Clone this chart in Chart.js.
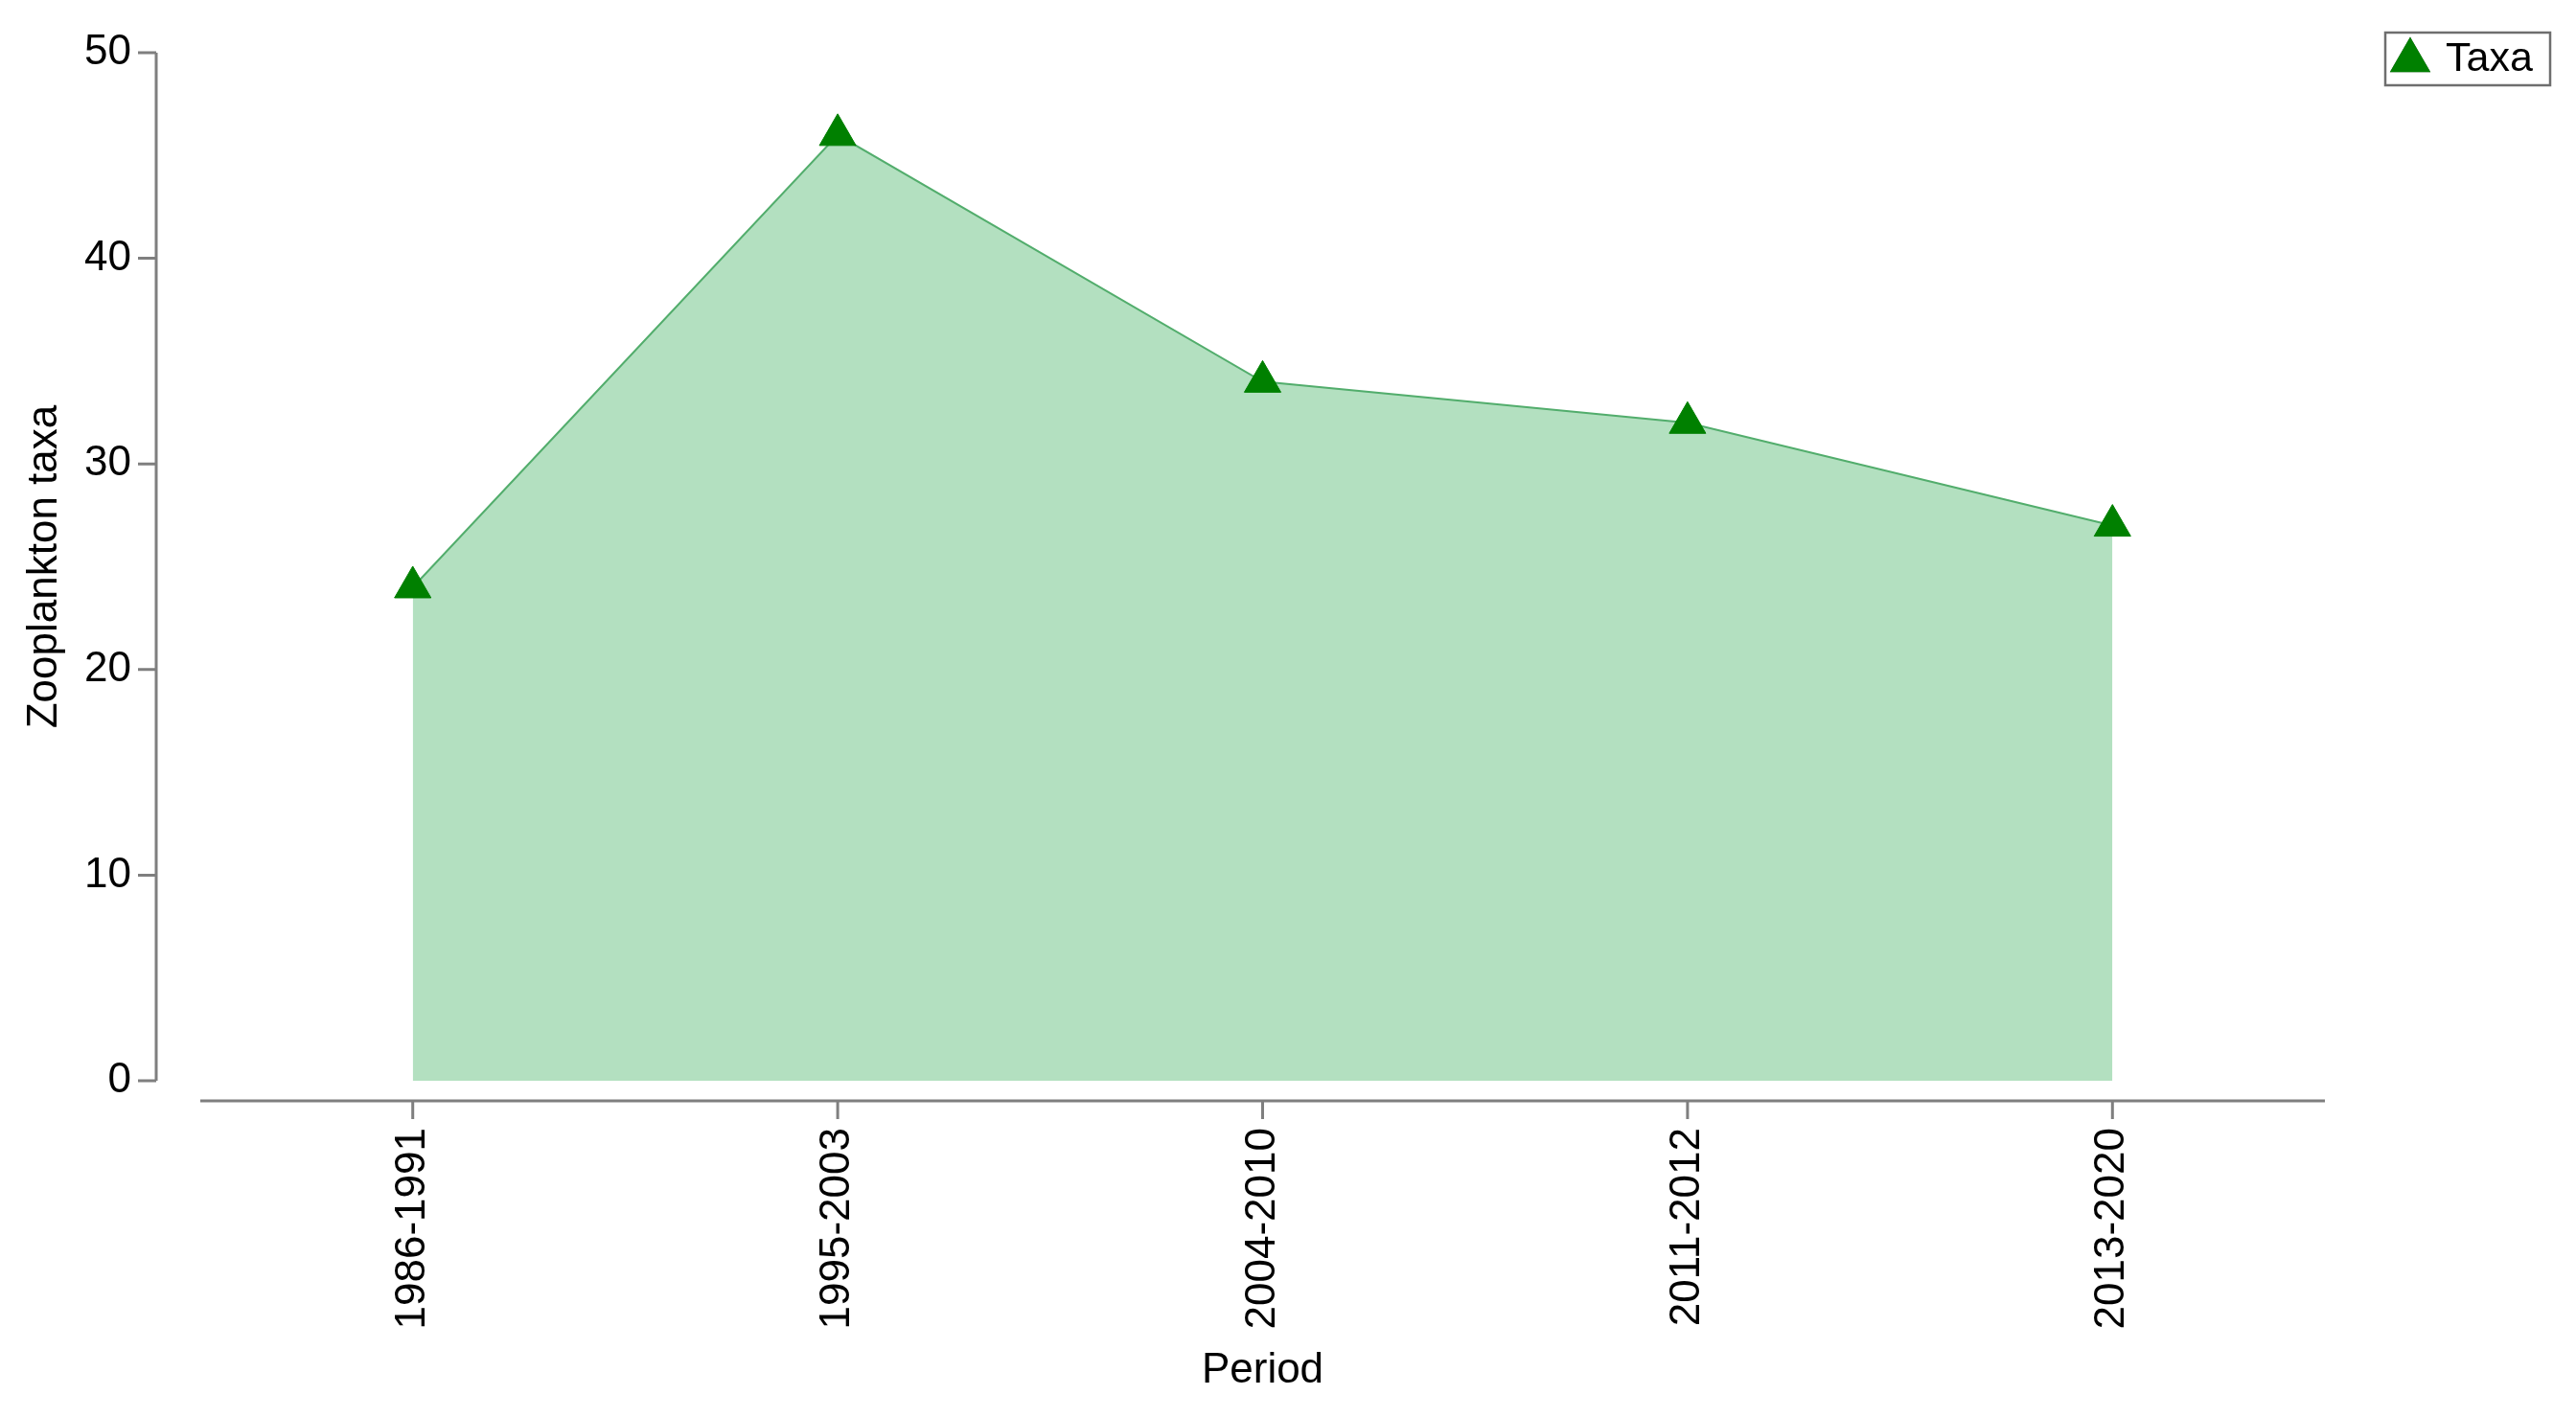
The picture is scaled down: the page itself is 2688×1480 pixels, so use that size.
<!DOCTYPE html>
<html>
<head>
<meta charset="utf-8">
<title>Zooplankton taxa by period</title>
<script src="https://cdn.jsdelivr.net/npm/chart.js@4"></script>
<style>
  html, body { margin: 0; padding: 0; background: #fff; }
  canvas { display: block; }
</style>
</head>
<body>
<canvas id="chart" width="2688" height="1480"></canvas>
<script>
// Data
const periods = ["1986-1991", "1995-2003", "2004-2010", "2011-2012", "2013-2020"];
const taxaCounts = [24, 46, 34, 32, 27];
const yTicks = [0, 10, 20, 30, 40, 50];
const seriesLabel = "Taxa";

const FONT = "'Liberation Sans', Arial, sans-serif";
const AXIS_GREY = "#7f7f7f";

/**
 * Draws R-style detached axes: y axis shifted left of the plot,
 * x axis shifted below it, each with outward tick marks.
 */
const detachedAxes = {
  id: "detachedAxes",
  afterDraw(chart) {
    const { ctx, chartArea, scales } = chart;
    const xs = scales.x;
    const ys = scales.y;
    const yAxisX = chartArea.left - 46;
    const xAxisY = chartArea.bottom + 21;

    ctx.save();
    ctx.strokeStyle = AXIS_GREY;
    ctx.lineWidth = 3;

    // y axis line and ticks
    ctx.beginPath();
    ctx.moveTo(yAxisX, ys.getPixelForValue(yTicks[yTicks.length - 1]));
    ctx.lineTo(yAxisX, ys.getPixelForValue(yTicks[0]));
    yTicks.forEach((v) => {
      const py = ys.getPixelForValue(v);
      ctx.moveTo(yAxisX - 19, py);
      ctx.lineTo(yAxisX, py);
    });
    ctx.stroke();

    // x axis line and ticks
    ctx.beginPath();
    ctx.moveTo(chartArea.left, xAxisY);
    ctx.lineTo(chartArea.right, xAxisY);
    periods.forEach((p, i) => {
      const px = xs.getPixelForTick(i);
      ctx.moveTo(px, xAxisY);
      ctx.lineTo(px, xAxisY + 19);
    });
    ctx.stroke();
    ctx.restore();
  }
};

/**
 * Boxed legend in the top right corner, outside the plot area.
 */
const boxedLegend = {
  id: "boxedLegend",
  afterDraw(chart) {
    const { ctx, chartArea } = chart;
    const ds = chart.data.datasets[0];
    const left = chartArea.right + 63;
    const top = 34;
    const w = 172;
    const h = 55;

    ctx.save();
    ctx.fillStyle = "#fff";
    ctx.fillRect(left, top, w, h);
    ctx.strokeStyle = "#6e6e6e";
    ctx.lineWidth = 2.5;
    ctx.strokeRect(left, top, w, h);

    // marker, same style as the dataset points
    Chart.helpers.drawPoint(ctx, {
      pointStyle: ds.pointStyle,
      radius: ds.pointRadius,
      rotation: 0,
      borderWidth: 1
    }, left + 26, top + 29);
    ctx.fillStyle = ds.pointBackgroundColor;
    ctx.strokeStyle = ds.pointBorderColor;
    ctx.fill();
    ctx.stroke();

    ctx.fillStyle = "#000";
    ctx.font = "43px " + FONT;
    ctx.textAlign = "left";
    ctx.textBaseline = "middle";
    ctx.fillText(ds.label, left + 63, top + 28);
    ctx.restore();
  }
};

const canvas = document.getElementById("chart");

new Chart(canvas, {
  type: "line",
  data: {
    labels: periods,
    datasets: [
      {
        label: seriesLabel,
        data: taxaCounts,
        fill: "origin",
        backgroundColor: "#b3e0c0",
        borderColor: "#52ad6c",
        borderWidth: 2,
        tension: 0,
        pointStyle: "triangle",
        pointRadius: 22,
        pointHoverRadius: 22,
        pointBackgroundColor: "#008000",
        pointBorderColor: "#008000",
        pointBorderWidth: 1
      }
    ]
  },
  options: {
    responsive: false,
    animation: false,
    devicePixelRatio: 1,
    layout: {
      padding: { top: 55, right: 262, bottom: 0, left: 0 }
    },
    plugins: {
      legend: { display: false },
      tooltip: { enabled: false }
    },
    scales: {
      x: {
        type: "category",
        offset: true,
        border: { display: false },
        grid: { display: false, drawTicks: false },
        ticks: {
          minRotation: 90,
          maxRotation: 90,
          padding: 49,
          color: "#000",
          font: { family: FONT, size: 44 }
        },
        title: {
          display: true,
          text: "Period",
          color: "#000",
          font: { family: FONT, size: 44 },
          padding: { top: 0, bottom: 23 }
        },
        afterFit(scale) {
          scale.height = 352;
        }
      },
      y: {
        min: 0,
        max: 50,
        border: { display: false },
        grid: { display: false, drawTicks: false },
        ticks: {
          stepSize: 10,
          padding: 72,
          color: "#000",
          font: { family: FONT, size: 44 }
        },
        title: {
          display: true,
          text: "Zooplankton taxa",
          color: "#000",
          font: { family: FONT, size: 44 },
          padding: { top: 20, bottom: 0 }
        },
        afterFit(scale) {
          // fixed width, and no extra top/bottom padding from the tick labels
          scale.width = 209;
          scale.paddingTop = 0;
          scale.paddingBottom = 0;
        }
      }
    }
  },
  plugins: [detachedAxes, boxedLegend]
});
</script>
</body>
</html>
